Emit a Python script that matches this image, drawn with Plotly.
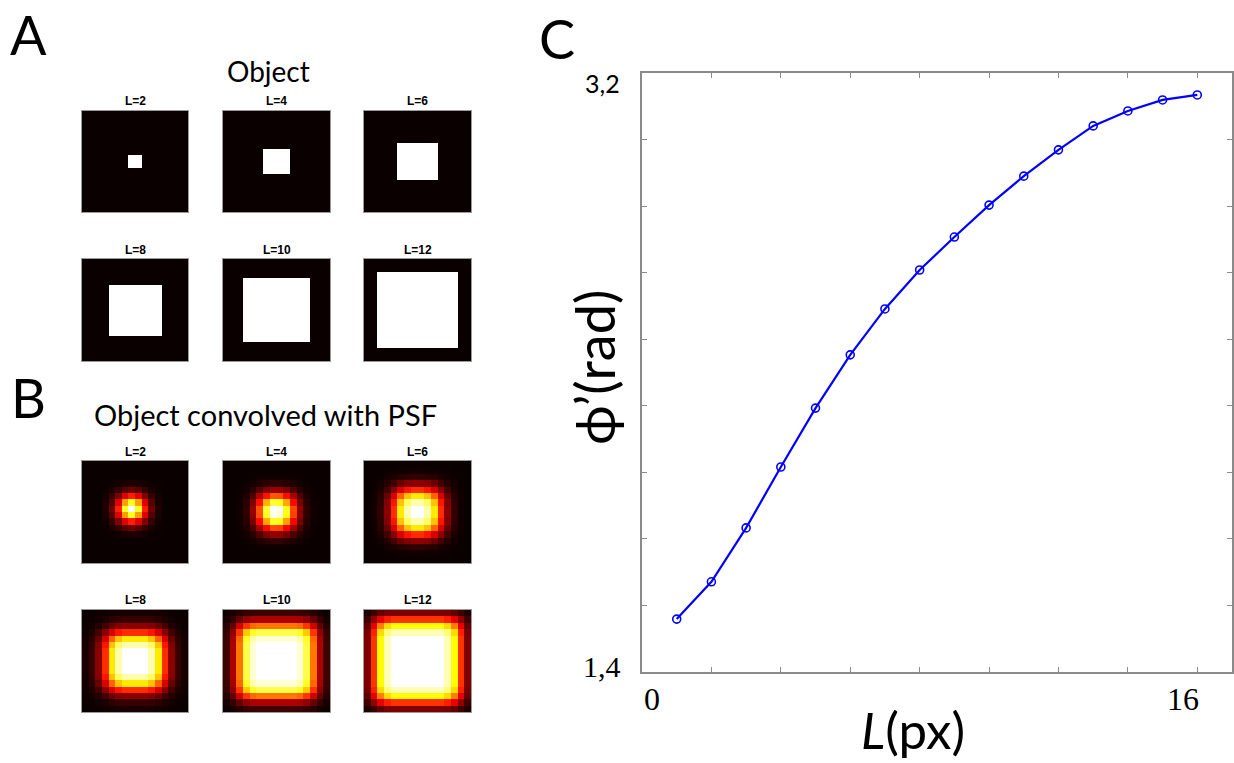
import plotly.graph_objects as go

W, H = 1234, 763

# ---------------- data ----------------
L_values = [1, 2, 3, 4, 5, 6, 7, 8, 9, 10, 11, 12, 13, 14, 15, 16]
phi_values = [1.559, 1.671, 1.833, 2.016, 2.193, 2.353, 2.491, 2.608,
              2.707, 2.803, 2.890, 2.969, 3.041, 3.086, 3.119, 3.134]

image_titles = ["L=2", "L=4", "L=6", "L=8", "L=10", "L=12"]

# 1-D profiles of the 16x16 object images (square of side L)
object_profiles = [
    [0, 0, 0, 0, 0, 0, 0, 1, 1, 0, 0, 0, 0, 0, 0, 0],
    [0, 0, 0, 0, 0, 0, 1, 1, 1, 1, 0, 0, 0, 0, 0, 0],
    [0, 0, 0, 0, 0, 1, 1, 1, 1, 1, 1, 0, 0, 0, 0, 0],
    [0, 0, 0, 0, 1, 1, 1, 1, 1, 1, 1, 1, 0, 0, 0, 0],
    [0, 0, 0, 1, 1, 1, 1, 1, 1, 1, 1, 1, 1, 0, 0, 0],
    [0, 0, 1, 1, 1, 1, 1, 1, 1, 1, 1, 1, 1, 1, 0, 0],
]

# 1-D profiles of the blurred images (normalised)
blurred_profiles = [
    [0, 0, 0, 0.03, 0.15, 0.42, 0.78, 1.0, 0.78, 0.42, 0.15, 0.03, 0, 0, 0, 0],
    [0, 0, 0.01, 0.06, 0.22, 0.50, 0.80, 1.0, 0.98, 0.78, 0.48, 0.21, 0.06, 0.01, 0, 0],
    [0, 0.01, 0.06, 0.20, 0.44, 0.72, 0.92, 1.0, 1.0, 0.92, 0.72, 0.44, 0.20, 0.06, 0.01, 0],
    [0.02, 0.07, 0.20, 0.44, 0.72, 0.92, 1.0, 1.0, 1.0, 1.0, 0.92, 0.72, 0.44, 0.20, 0.07, 0.02],
    [0.08, 0.25, 0.55, 0.82, 0.96, 1.0, 1.0, 1.0, 1.0, 1.0, 1.0, 0.96, 0.82, 0.55, 0.25, 0.08],
    [0.18, 0.45, 0.75, 0.93, 1.0, 1.0, 1.0, 1.0, 1.0, 1.0, 1.0, 1.0, 0.93, 0.75, 0.45, 0.18],
]

x_tick_vals = [0, 2, 4, 6, 8, 10, 12, 14, 16]
y_tick_vals = [1.4, 1.6, 1.8, 2.0, 2.2, 2.4, 2.6, 2.8, 3.0, 3.2]

# ---------------- helpers ----------------
def px(x):
    return x / W


def py(y):
    return 1 - y / H


hot = [[0, "rgb(11,0,0)"], [0.375, "rgb(255,0,0)"],
       [0.75, "rgb(255,255,0)"], [1, "rgb(255,255,255)"]]

fig = go.Figure()
layout = dict(width=W, height=H, margin=dict(l=0, r=0, t=0, b=0),
              paper_bgcolor="white", plot_bgcolor="white", showlegend=False)

col_x = [(82, 188), (223, 330), (364, 471)]
row_y = [(111, 212), (259, 361), (461, 563), (610, 712)]
title_y = [101, 250, 452, 600]

annotations = []
n = 0
for panel, profiles in enumerate([object_profiles, blurred_profiles]):
    for k, prof in enumerate(profiles):
        n += 1
        r = panel * 2 + k // 3
        c = k % 3
        z = [[a * b for b in prof] for a in prof]
        fig.add_trace(go.Heatmap(z=z, colorscale=hot, zmin=0, zmax=1,
                                 showscale=False, xaxis=f"x{n}", yaxis=f"y{n}",
                                 hoverinfo="skip"))
        ax = dict(showgrid=False, zeroline=False, showticklabels=False,
                  ticks="", showline=True, mirror=True,
                  linecolor="#9a9a9a", linewidth=1)
        layout[f"xaxis{n}"] = dict(ax, domain=[px(col_x[c][0]), px(col_x[c][1])],
                                   range=[-0.5, 15.5], anchor=f"y{n}")
        layout[f"yaxis{n}"] = dict(ax, domain=[py(row_y[r][1]), py(row_y[r][0])],
                                   range=[15.5, -0.5], anchor=f"x{n}")
        annotations.append(dict(text=f"<b>{image_titles[k]}</b>", xref="paper", yref="paper",
                                x=px((col_x[c][0] + col_x[c][1]) / 2), y=py(title_y[r]),
                                xanchor="center", yanchor="middle", showarrow=False,
                                font=dict(family="Liberation Sans, Arial", size=12, color="black")))

# ---------------- panel C ----------------
n += 1
fig.add_trace(go.Scatter(x=L_values, y=phi_values, mode="lines+markers",
                         line=dict(color="#0000ff", width=2.2),
                         marker=dict(symbol="circle-open", size=8, color="#0000ff",
                                     line=dict(width=1.6, color="#0000ff")),
                         xaxis=f"x{n}", yaxis=f"y{n}", hoverinfo="skip"))
axc = dict(showgrid=False, zeroline=False, showticklabels=False,
           ticks="inside", ticklen=5, tickwidth=1, tickcolor="#8a8a8a",
           showline=True, mirror="ticks", linecolor="#8a8a8a", linewidth=1.5)
layout[f"xaxis{n}"] = dict(axc, domain=[px(642), px(1232)], range=[0, 17],
                           tickvals=x_tick_vals, anchor=f"y{n}")
layout[f"yaxis{n}"] = dict(axc, domain=[py(672), py(73)], range=[1.4, 3.2],
                           tickvals=y_tick_vals, anchor=f"x{n}")


def add_text(text, x, y, size, family="Lato", angle=0):
    annotations.append(dict(text=text, xref="paper", yref="paper", x=px(x), y=py(y),
                            xanchor="center", yanchor="middle", showarrow=False,
                            textangle=angle,
                            font=dict(family=family, size=size, color="black")))


add_text("A", 28, 34, 54)
add_text("B", 28, 397, 54)
add_text("C", 557, 38, 54)
add_text("Object", 268, 71, 28)
add_text("Object convolved with PSF", 265, 414, 29)
add_text("3,2", 602, 83, 25)
add_text("1,4", 602, 666, 30, family="Liberation Serif")
add_text("0", 652, 699, 32, family="Liberation Serif")
add_text("16", 1183, 699, 32, family="Liberation Serif")
add_text("<i>L</i>(px)", 913, 729, 51)
add_text("ϕ’(rad)", 594, 368, 54, angle=-90)

layout["annotations"] = annotations
fig.update_layout(**layout)
fig.write_html("out.html")
